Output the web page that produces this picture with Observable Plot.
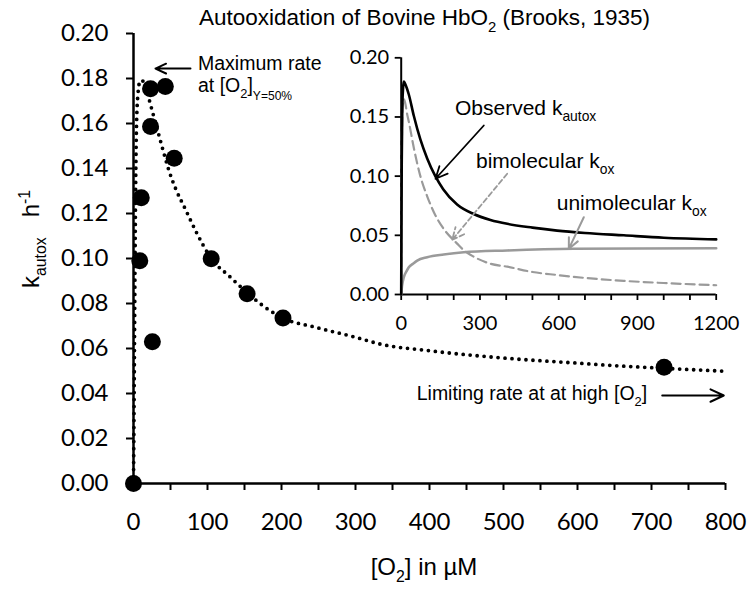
<!DOCTYPE html>
<html><head><meta charset="utf-8">
<script src="https://cdn.jsdelivr.net/npm/d3@7"></script>
<script src="https://cdn.jsdelivr.net/npm/@observablehq/plot@0.6"></script>
<style>
body{margin:0;background:#fff;}
#wrap{position:relative;width:754px;height:589px;background:#fff;}
#wrap svg{position:absolute;left:0;top:0;}
</style></head><body><div id="wrap"></div>
<script>
// ---------- main chart data (Brooks, 1935) ----------
const pointO2 = [0, 8.5, 10.5, 23, 23, 43, 55, 25.5, 105, 153.5, 202, 717];
const pointK  = [0, 0.099, 0.127, 0.1587, 0.1754, 0.1764, 0.1446, 0.063, 0.0999, 0.0843, 0.0736, 0.0517];

const fitO2 = [0, 1, 2, 3, 4, 6, 9, 12, 16, 20, 25, 30, 35, 40, 48, 57, 70, 86, 105, 130, 153, 175, 202, 245, 300, 333, 400, 514, 600, 649, 717, 800];
const fitK  = [0, 0.045, 0.095, 0.135, 0.158, 0.173, 0.179, 0.179, 0.176, 0.172, 0.166, 0.160, 0.154, 0.148, 0.139, 0.131, 0.122, 0.111, 0.100, 0.092, 0.085, 0.079, 0.0735, 0.0695, 0.065, 0.062, 0.059, 0.0554, 0.0535, 0.0524, 0.0512, 0.0499];

const mainXTicks = d3.range(0, 801, 50);
const mainYTicks = d3.range(0, 0.2001, 0.02);

// ---------- inset data ----------
const obsX = [0, 1, 2, 4, 7, 10, 15, 29, 48, 73, 99, 130, 160, 213, 276, 340, 404, 500, 594, 700, 848, 1000, 1200];
const obsY = [0, 0.06, 0.11, 0.155, 0.174, 0.18, 0.178, 0.169, 0.151, 0.131, 0.115, 0.100, 0.089, 0.076, 0.068, 0.063, 0.0597, 0.0565, 0.054, 0.052, 0.050, 0.048, 0.0466];

const uniX = [0, 3, 10, 20, 29, 45, 61, 99, 162, 238, 404, 657, 900, 1200];
const uniY = [0, 0.007, 0.0146, 0.0195, 0.023, 0.026, 0.0287, 0.0315, 0.0338, 0.0357, 0.0372, 0.0386, 0.0389, 0.0391];

const biX = [0, 1, 2, 4, 7, 10, 15, 23, 29, 48, 73, 99, 130, 160, 213, 238, 276, 340, 404, 500, 594, 700, 848, 1000, 1200];
const biY = [0, 0.06, 0.11, 0.15, 0.162, 0.165, 0.162, 0.152, 0.146, 0.124, 0.100, 0.083, 0.067, 0.056, 0.043, 0.0375, 0.032, 0.026, 0.0235, 0.019, 0.0165, 0.014, 0.0115, 0.0097, 0.0078];

const insetXTicks = d3.range(0, 1201, 100);
const insetYTicks = [0, 0.05, 0.10, 0.15, 0.20];

// ---------- annotations (data units) ----------
const mainArrowX1 = [77, 714.5], mainArrowY1 = [0.1844, 0.0391];
const mainArrowX2 = [29.7, 797.7], mainArrowY2 = [0.1844, 0.0391];

const insetArrowX1 = [314.7, 403.8, 695.6], insetArrowY1 = [0.1428, 0.102, 0.0653];
const insetArrowX2 = [130.7, 194.3, 638.5], insetArrowY2 = [0.0978, 0.0462, 0.0386];

const mainNotes = [
  {x: 87.8, y: 0.1836, parts: [["Maximum rate"]]},
  {x: 87.8, y: 0.1738, parts: [["at [O"], ["2", "sub"], ["]"], ["Y=50%", "sub2"]]},
  {x: 383.4, y: 0.0369, parts: [["Limiting rate at at high [O"], ["2", "sub"], ["]"]]}
];
const insetNotes = [
  {x: 206.9, y: 0.1512, parts: [["Observed k"], ["autox", "sub"]]},
  {x: 286.9, y: 0.1065, parts: [["bimolecular k"], ["ox", "sub"]]},
  {x: 594.3, y: 0.071, parts: [["unimolecular k"], ["ox", "sub"]]}
];
const titleParts = [["Autooxidation of Bovine HbO"], ["2", "sub"], [" (Brooks, 1935)"]];
const xLabelParts = [["[O"], ["2", "sub"], ["] in µM"]];
const yLabelParts = [["k"], ["autox", "sub"], ["\u00a0\u00a0\u00a0h"], ["-1", "sup"]];

// ---------- build tables ----------
const points = pointO2.map((x, i) => ({x, y: pointK[i]}));
const fit = fitO2.map((x, i) => ({x, y: fitK[i]}));
const obs = obsX.map((x, i) => ({x, y: obsY[i]}));
const uni = uniX.map((x, i) => ({x, y: uniY[i]}));
const bi = biX.map((x, i) => ({x, y: biY[i]}));
const mainArrows = mainArrowX1.map((x1, i) => ({x1, y1: mainArrowY1[i], x2: mainArrowX2[i], y2: mainArrowY2[i]}));
const insetArrows = insetArrowX1.map((x1, i) => ({x1, y1: insetArrowY1[i], x2: insetArrowX2[i], y2: insetArrowY2[i], k: i}));

const W = 754, H = 589;
const wrap = document.getElementById("wrap");

const mainPlot = Plot.plot({
  width: W, height: H,
  marginLeft: 133, marginRight: 29, marginTop: 33, marginBottom: 106,
  x: {domain: [0, 800]},
  y: {domain: [0, 0.2]},
  style: {fontFamily: "Lato", fontSize: "24px", color: "black", background: "transparent", overflow: "visible"},
  marks: [
    Plot.axisY({ticks: mainYTicks, tickFormat: d => d.toFixed(2), tickSize: 7, tickPadding: 18, strokeWidth: 2, label: null, fontSize: 24}),
    Plot.axisX({ticks: mainXTicks, tickFormat: d => (Math.round(d) % 100 === 0 ? String(Math.round(d)) : ""), tickSize: 7, tickPadding: 22, strokeWidth: 2, label: null, fontSize: 24}),
    Plot.ruleX([0], {y1: 0, y2: 0.2, stroke: "black", strokeWidth: 2.5}),
    Plot.ruleY([0], {x1: 0, x2: 800, stroke: "black", strokeWidth: 2.5}),
    Plot.line(fit, {x: "x", y: "y", stroke: "black", strokeWidth: 3.8, strokeDasharray: "0,7", strokeLinecap: "round", curve: "monotone-x"}),
    Plot.dot(points, {x: "x", y: "y", r: 8.5, fill: "black"}),
    Plot.arrow(mainArrows, {x1: "x1", y1: "y1", x2: "x2", y2: "y2", stroke: "black", strokeWidth: 2, headLength: 11, headAngle: 50})
  ]
});
wrap.appendChild(mainPlot);

const insetPlot = Plot.plot({
  width: W, height: H,
  marginLeft: 400.7, marginRight: 38.3, marginTop: 57.3, marginBottom: 295,
  x: {domain: [0, 1200]},
  y: {domain: [0, 0.2]},
  style: {fontFamily: "Lato", fontSize: "20px", color: "black", background: "transparent", overflow: "visible"},
  marks: [
    Plot.axisY({ticks: insetYTicks, tickFormat: d => d.toFixed(2), tickSize: 6, tickPadding: 6, strokeWidth: 1.8, label: null, fontSize: 20}),
    Plot.axisX({ticks: insetXTicks, tickFormat: d => (d % 300 === 0 ? String(d) : ""), tickSize: 6, tickPadding: 15, strokeWidth: 1.8, label: null, fontSize: 20}),
    Plot.ruleX([0], {y1: 0, y2: 0.2, stroke: "black", strokeWidth: 2}),
    Plot.ruleY([0], {x1: 0, x2: 1200, stroke: "black", strokeWidth: 2}),
    Plot.line(bi, {x: "x", y: "y", stroke: "#9a9a9a", strokeWidth: 2.2, strokeDasharray: "9,5", curve: "monotone-x"}),
    Plot.line(uni, {x: "x", y: "y", stroke: "#9a9a9a", strokeWidth: 2.6, curve: "monotone-x"}),
    Plot.line(obs, {x: "x", y: "y", stroke: "black", strokeWidth: 2.6, curve: "monotone-x"}),
    Plot.arrow(insetArrows.filter(d => d.k === 0), {x1: "x1", y1: "y1", x2: "x2", y2: "y2", stroke: "black", strokeWidth: 1.8, headLength: 11, headAngle: 50}),
    Plot.arrow(insetArrows.filter(d => d.k === 1), {x1: "x1", y1: "y1", x2: "x2", y2: "y2", stroke: "#9a9a9a", strokeWidth: 1.8, strokeDasharray: "5,3", headLength: 11, headAngle: 50}),
    Plot.arrow(insetArrows.filter(d => d.k === 2), {x1: "x1", y1: "y1", x2: "x2", y2: "y2", stroke: "#9a9a9a", strokeWidth: 2, headLength: 11, headAngle: 50})
  ]
});
wrap.appendChild(insetPlot);

// ---------- rich text helper ----------
function rich(sel, px, py, parts, size, opts = {}) {
  const t = sel.append("text")
    .attr("x", px).attr("y", py)
    .attr("font-family", opts.family || "'Liberation Sans', Arial, sans-serif")
    .attr("font-size", size)
    .attr("fill", opts.fill || "black")
    .attr("text-anchor", opts.anchor || "start");
  if (opts.transform) t.attr("transform", opts.transform);
  let shift = 0;
  for (const [s, kind] of parts) {
    let target = 0, fs = size;
    if (kind === "sub") { target = 0.3 * size; fs = 0.66 * size; }
    else if (kind === "sub2") { target = 0.42 * size; fs = 0.62 * size; }
    else if (kind === "sup") { target = -0.38 * size; fs = 0.66 * size; }
    t.append("tspan").attr("dy", target - shift).attr("font-size", fs).text(s);
    shift = target;
  }
  return t;
}

const sx = mainPlot.scale("x").apply, sy = mainPlot.scale("y").apply;
const msvg = d3.select(mainPlot);
for (const n of mainNotes) rich(msvg, sx(n.x), sy(n.y), n.parts, 19.5);
rich(msvg, 199, 25, titleParts, 22.5);
rich(msvg, 424, 575, xLabelParts, 24, {anchor: "middle"});
rich(msvg, 0, 0, yLabelParts, 24, {anchor: "middle", transform: "translate(39,239) rotate(-90)"});

const ix = insetPlot.scale("x").apply, iy = insetPlot.scale("y").apply;
const isvg = d3.select(insetPlot);
for (const n of insetNotes) rich(isvg, ix(n.x), iy(n.y), n.parts, 21);
</script></body></html>
